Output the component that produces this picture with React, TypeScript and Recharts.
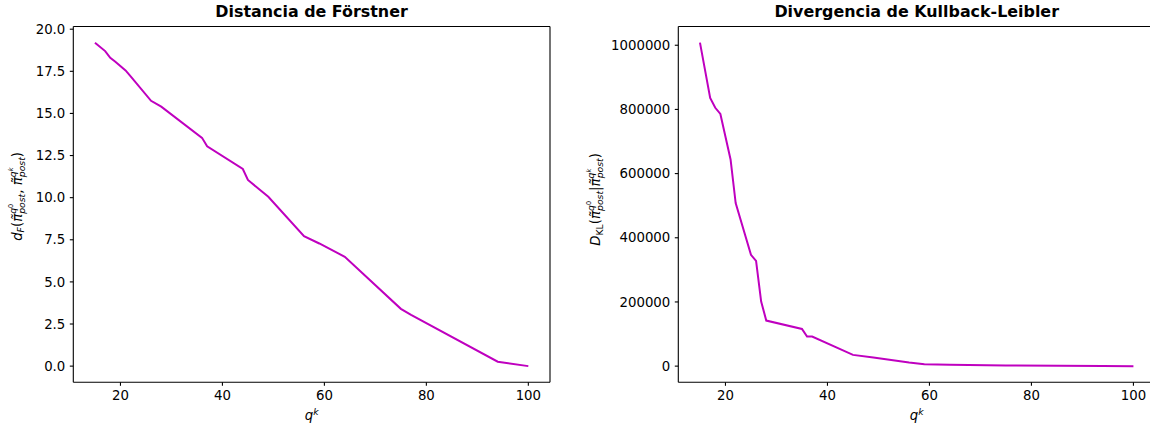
import { LineChart, Line, XAxis, YAxis, ReferenceLine } from 'recharts'

// Förstner distance vs q^k
const qForstner = [15, 17, 18, 19, 21, 22, 26, 28, 36, 37, 44, 45, 49, 56, 59, 64, 75, 77, 94, 100]
const dForstner = [19.2, 18.7, 18.3, 18.07, 17.55, 17.2, 15.75, 15.4, 13.55, 13.05, 11.7, 11.05, 10.05, 7.72, 7.28, 6.49, 3.4, 3.04, 0.26, 0.0]

// Kullback-Leibler divergence vs q^k
const qKL = [15, 17, 18, 19, 21, 22, 25, 26, 27, 28, 35, 36, 37, 45, 49, 56, 59, 64, 75, 77, 94, 100]
const dKL = [1008000, 836000, 805000, 786000, 644000, 508000, 347000, 328000, 201000, 142000, 116000, 92000, 92000, 35000, 27000, 11000, 6000, 4500, 2000, 1800, 500, 0]

const xTicks = [20, 40, 60, 80, 100]
const forstnerTicks = [0, 2.5, 5, 7.5, 10, 12.5, 15, 17.5, 20]
const klTicks = [0, 200000, 400000, 600000, 800000, 1000000]

const FONT = 'DejaVu Sans'
const LINE_COLOR = '#bf00bf'
const X_DOMAIN: [number, number] = [10.75, 104.25]

const forstnerData = qForstner.map((q, i) => ({ q, v: dForstner[i] }))
const klData = qKL.map((q, i) => ({ q, v: dKL[i] }))

const tickStyle = { fill: '#000', fontSize: 13.3, fontFamily: FONT }
const S1 = 9.3
const S2 = 6.6

// pi with tilde, q^x superscript and "post" subscript stacked under it
const PiPost = ({ sup, supW }: { sup: string; supW: number }) => (
  <>
    <tspan fontStyle="italic">π̃</tspan>
    <tspan fontSize={S1} fontStyle="italic" dy={-5.5}>q</tspan>
    <tspan fontSize={S2} fontStyle={sup === 'k' ? 'italic' : 'normal'} dy={-3.5}>{sup}</tspan>
    <tspan fontSize={S1} fontStyle="italic" dx={-supW} dy={12}>post</tspan>
  </>
)

const ForstnerLabel = ({ viewBox }: any) => {
  const x = viewBox.x + 8.5
  const y = viewBox.y + viewBox.height / 2 - 8
  return (
    <text x={x} y={y} transform={`rotate(-90, ${x}, ${y})`} textAnchor="middle" fontFamily={FONT} fontSize={13.3} fill="#000">
      <tspan fontStyle="italic">d</tspan>
      <tspan fontSize={S1} fontStyle="italic" dy={2.6}>F</tspan>
      <tspan dy={-2.6}>(</tspan>
      <PiPost sup="0" supW={10.1} />
      <tspan dy={-3}>, </tspan>
      <PiPost sup="k" supW={9.7} />
      <tspan dy={-3}>)</tspan>
    </text>
  )
}

const KLLabel = ({ viewBox }: any) => {
  const x = viewBox.x + 20
  const y = viewBox.y + viewBox.height / 2 - 5
  return (
    <text x={x} y={y} transform={`rotate(-90, ${x}, ${y})`} textAnchor="middle" fontFamily={FONT} fontSize={13.3} fill="#000">
      <tspan fontStyle="italic">D</tspan>
      <tspan fontSize={S1} dy={2.6}>KL</tspan>
      <tspan dy={-2.6}>(</tspan>
      <PiPost sup="0" supW={10.1} />
      <tspan dy={-3}>|</tspan>
      <PiPost sup="k" supW={9.7} />
      <tspan dy={-3}>)</tspan>
    </text>
  )
}

const QLabel = ({ viewBox }: any) => {
  const x = viewBox.x + viewBox.width / 2
  const y = viewBox.y + 38
  return (
    <text x={x} y={y} textAnchor="middle" fontFamily={FONT} fontSize={13.3} fill="#000">
      <tspan fontStyle="italic">q</tspan>
      <tspan fontSize={S1} fontStyle="italic" dy={-5.5}>k</tspan>
    </text>
  )
}

const Title = ({ text, left, width }: { text: string; left: number; width: number }) => (
  <div
    style={{
      position: 'absolute',
      left,
      width,
      top: 2,
      textAlign: 'center',
      fontFamily: FONT,
      fontWeight: 'bold',
      fontSize: 15.9,
      lineHeight: '20px',
      color: '#000',
    }}
  >
    {text}
  </div>
)

interface PanelProps {
  data: { q: number; v: number }[]
  yDomain: [number, number]
  yTicks: number[]
  yFormat: (v: number) => string
  yWidth: number
  marginLeft: number
  marginRight: number
  width: number
  yLabel: (props: any) => any
}

const Panel = ({ data, yDomain, yTicks, yFormat, yWidth, marginLeft, marginRight, width, yLabel }: PanelProps) => (
  <LineChart
    width={width}
    height={425}
    data={data}
    margin={{ top: 26.5, right: marginRight, bottom: 2.7, left: marginLeft }}
  >
    <XAxis
      dataKey="q"
      type="number"
      domain={X_DOMAIN}
      ticks={xTicks}
      allowDataOverflow
      stroke="#000"
      strokeWidth={1.1}
      tickSize={3.5}
      tickMargin={4.5}
      tick={tickStyle}
      height={40}
      label={{ content: QLabel }}
    />
    <YAxis
      type="number"
      domain={yDomain}
      ticks={yTicks}
      allowDataOverflow
      tickFormatter={yFormat}
      stroke="#000"
      strokeWidth={1.1}
      tickSize={3.5}
      tickMargin={4.5}
      tick={tickStyle}
      width={yWidth}
      label={{ content: yLabel }}
    />
    {/* top and right spines */}
    <ReferenceLine y={yDomain[1]} stroke="#000" strokeWidth={1.1} ifOverflow="visible" />
    <ReferenceLine x={X_DOMAIN[1]} stroke="#000" strokeWidth={1.1} ifOverflow="visible" />
    <Line
      type="linear"
      dataKey="v"
      stroke={LINE_COLOR}
      strokeWidth={2}
      dot={false}
      isAnimationActive={false}
    />
  </LineChart>
)

export default function App() {
  return (
    <div
      style={{
        position: 'absolute',
        left: 0,
        top: 0,
        width: 1150,
        height: 425,
        overflow: 'hidden',
        background: '#fff',
      }}
    >
      <div style={{ position: 'absolute', left: 0, top: 0 }}>
        <Panel
          data={forstnerData}
          yDomain={[-0.96, 20.16]}
          yTicks={forstnerTicks}
          yFormat={(v) => v.toFixed(1)}
          yWidth={60}
          marginLeft={13.3}
          marginRight={10}
          width={560}
          yLabel={ForstnerLabel}
        />
      </div>
      <div style={{ position: 'absolute', left: 580, top: 0 }}>
        <Panel
          data={klData}
          yDomain={[-50400, 1058400]}
          yTicks={klTicks}
          yFormat={(v) => String(v)}
          yWidth={98.3}
          marginLeft={0}
          marginRight={4.9}
          width={580}
          yLabel={KLLabel}
        />
      </div>
      <Title text="Distancia de Förstner" left={73.3} width={476.5} />
      <Title text="Divergencia de Kullback-Leibler" left={678.3} width={476.8} />
    </div>
  )
}
